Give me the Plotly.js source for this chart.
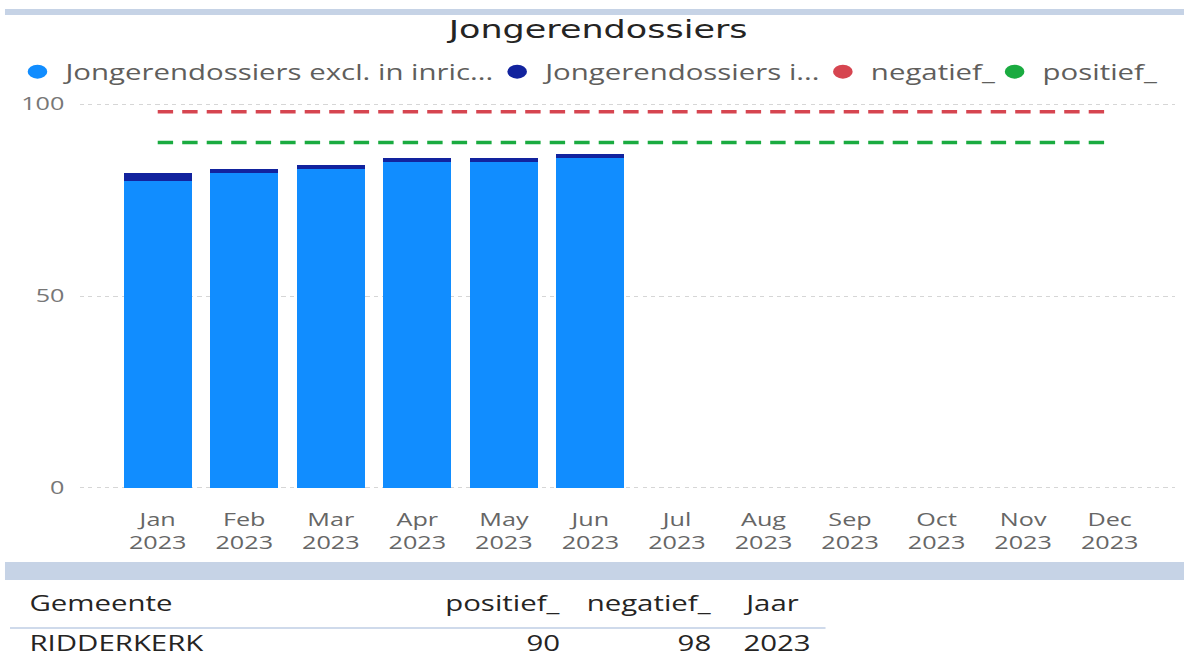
<!DOCTYPE html>
<html>
<head>
<meta charset="utf-8">
<script src="https://cdn.plot.ly/plotly-3.0.1.min.js"></script>
<style>
  html, body { margin: 0; padding: 0; overflow: hidden; background: #fff; }
  /* the reference is stretched sideways, so draw narrow and widen */
  #myDiv { width: 846px; height: 670px; transform: scaleX(1.4); transform-origin: 0 0; }
</style>
</head>
<body>
<div id="myDiv"></div>
<script>
var months = ["Jan", "Feb", "Mar", "Apr", "May", "Jun", "Jul", "Aug", "Sep", "Oct", "Nov", "Dec"];
var year = "2023";
var exclInric = [80, 82, 83, 85, 85, 86];
var inInric = [2, 1, 1, 1, 1, 1];
var negatief = [98, 98, 98, 98, 98, 98, 98, 98, 98, 98, 98, 98];
var positief = [90, 90, 90, 90, 90, 90, 90, 90, 90, 90, 90, 90];

var legendNames = ["Jongerendossiers excl. in inric...", "Jongerendossiers i...", "negatief_", "positief_"];
var legendColors = ["#118DFF", "#12239E", "#D64550", "#1AAB40"];
var legendX = [0.008, 0.413, 0.688, 0.833];

var tableHeader = ["Gemeente", "positief_", "negatief_", "Jaar"];
var tableRow = ["RIDDERKERK", "90", "98", "2023"];
var tableX = [0.0228, 0.4747, 0.603, 0.6258];
var tableAnchor = ["left", "right", "right", "left"];

var labels = months.map((m) => m + "<br>" + year);
var font = "Open Sans";

var data = [
  {
    type: "bar",
    x: labels.slice(0, exclInric.length),
    y: exclInric,
    marker: { color: legendColors[0] },
    showlegend: false,
    hoverinfo: "y",
  },
  {
    type: "bar",
    x: labels.slice(0, inInric.length),
    y: inInric,
    marker: { color: legendColors[1] },
    showlegend: false,
    hoverinfo: "y",
  },
  {
    type: "scatter",
    mode: "lines",
    x: labels,
    y: negatief,
    line: { color: legendColors[2], width: 3.5, dash: "11px,6.5px" },
    showlegend: false,
  },
  {
    type: "scatter",
    mode: "lines",
    x: labels,
    y: positief,
    line: { color: legendColors[3], width: 3.5, dash: "11px,6.5px" },
    showlegend: false,
  },
];

// one legend per item so each one sits where the reference has it
var layout = {
  width: 846,
  height: 670,
  margin: { l: 0, r: 0, t: 0, b: 0 },
  paper_bgcolor: "#fff",
  plot_bgcolor: "#fff",
  barmode: "stack",
  bargap: 0.214,
  title: {
    text: "Jongerendossiers",
    x: 0.505,
    xref: "container",
    xanchor: "center",
    y: 0.9567,
    yref: "container",
    yanchor: "middle",
    font: { family: "DejaVu Sans", size: 25, color: "#252423" },
  },
  xaxis: {
    type: "category",
    categoryarray: labels,
    domain: [0.0674, 0.9917],
    range: [-0.9, 11.75],
    showgrid: false,
    showline: false,
    zeroline: false,
    ticks: "",
    ticklabelstandoff: 17,
    tickfont: { family: font, size: 18, color: "#666" },
    fixedrange: true,
  },
  yaxis: {
    domain: [0.2688, 0.8476],
    range: [-0.5, 100.5],
    tickvals: [0, 50, 100],
    showgrid: true,
    gridcolor: "#d6d6d6",
    griddash: "dot",
    zeroline: false,
    showline: false,
    ticks: "",
    ticklabelstandoff: 10,
    tickfont: { family: font, size: 18, color: "#777" },
    fixedrange: true,
  },
  shapes: [
    { type: "rect", xref: "paper", yref: "paper", x0: 0.0042, x1: 1, y0: 0.9776, y1: 0.9866, fillcolor: "#c6d3e6", line: { width: 0 } },
    { type: "rect", xref: "paper", yref: "paper", x0: 0.0042, x1: 1, y0: 0.1343, y1: 0.1612, fillcolor: "#c6d3e6", line: { width: 0 } },
    { type: "line", xref: "paper", yref: "paper", x0: 0.0084, x1: 0.697, y0: 0.0627, y1: 0.0627, line: { color: "#9fb6d8", width: 1 } },
  ],
  annotations: [],
};

legendNames.forEach((name, k) => {
  var key = k === 0 ? "legend" : "legend" + (k + 1);
  data.push({
    type: "scatter",
    mode: "markers",
    x: [null],
    y: [null],
    name: name,
    legend: key,
    marker: { color: legendColors[k], size: 14, symbol: "circle" },
    hoverinfo: "skip",
  });
  layout[key] = {
    x: legendX[k],
    y: 0.8925,
    xanchor: "left",
    yanchor: "middle",
    orientation: "h",
    bgcolor: "rgba(0,0,0,0)",
    borderwidth: 0,
    font: { family: font, size: 21, color: "#605E5C" },
  };
});

[tableHeader, tableRow].forEach((row, r) => {
  row.forEach((txt, c) => {
    layout.annotations.push({
      xref: "paper",
      yref: "paper",
      x: tableX[c],
      y: r === 0 ? 0.1 : 0.0403,
      xanchor: tableAnchor[c],
      yanchor: "middle",
      showarrow: false,
      text: txt,
      font: { family: font, size: 21, color: "#252423" },
    });
  });
});

document.addEventListener("DOMContentLoaded", () => {
  Plotly.newPlot("myDiv", data, layout, { displayModeBar: false, staticPlot: true });
});
</script>
</body>
</html>
